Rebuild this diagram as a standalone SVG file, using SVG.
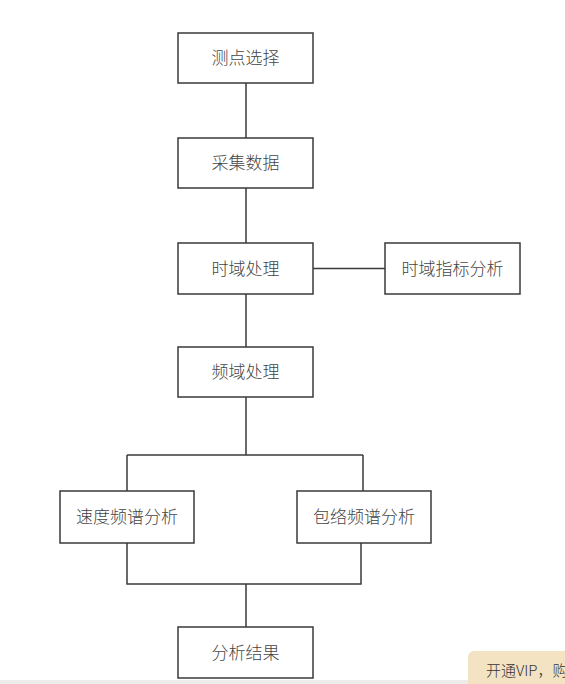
<svg xmlns="http://www.w3.org/2000/svg" width="565" height="684" viewBox="0 0 565 684">
<style>
.box{fill:#fff;stroke:#3a3a3a;stroke-width:1.5}
.lbl{font-family:"Noto Sans CJK SC",sans-serif;font-weight:300;font-size:17px;fill:#444;text-anchor:middle;dominant-baseline:central}
.con{fill:none;stroke:#3a3a3a;stroke-width:1.5}
</style>
<rect width="565" height="684" fill="#fff"/>
<g id="connectors">
<path class="con" d="M246 83V138M246 188V243M246 294V347M313 268.5H385M246 397V455M127 455H363M127 455V491M363 455V491M127 543V584H361V543M246 584V627"/>
</g>
<g id="n1"><rect class="box" x="178" y="33" width="135" height="50"/><text class="lbl" x="245.5" y="56.5">测点选择</text></g>
<g id="n2"><rect class="box" x="178" y="138" width="135" height="50"/><text class="lbl" x="245.5" y="161.5">采集数据</text></g>
<g id="n3"><rect class="box" x="178" y="243" width="135" height="51"/><text class="lbl" x="245.5" y="267">时域处理</text></g>
<g id="n4"><rect class="box" x="385" y="243" width="135" height="51"/><text class="lbl" x="452.5" y="267">时域指标分析</text></g>
<g id="n5"><rect class="box" x="178" y="347" width="135" height="50"/><text class="lbl" x="245.5" y="370.5">频域处理</text></g>
<g id="n6"><rect class="box" x="60" y="491" width="134" height="52"/><text class="lbl" x="127" y="515.5">速度频谱分析</text></g>
<g id="n7"><rect class="box" x="297" y="491" width="134" height="52"/><text class="lbl" x="364" y="515.5">包络频谱分析</text></g>
<g id="n8"><rect class="box" x="178" y="627" width="135" height="51"/><text class="lbl" x="245.5" y="651">分析结果</text></g>
<rect x="0" y="680" width="565" height="4" fill="#ececec"/>
<rect x="468" y="651" width="110" height="40" rx="6" fill="#f3e3c3"/>
<text x="486" y="676" font-family="'Noto Sans CJK SC',sans-serif" font-weight="300" font-size="15" fill="#333">开通VIP，购</text>
</svg>
